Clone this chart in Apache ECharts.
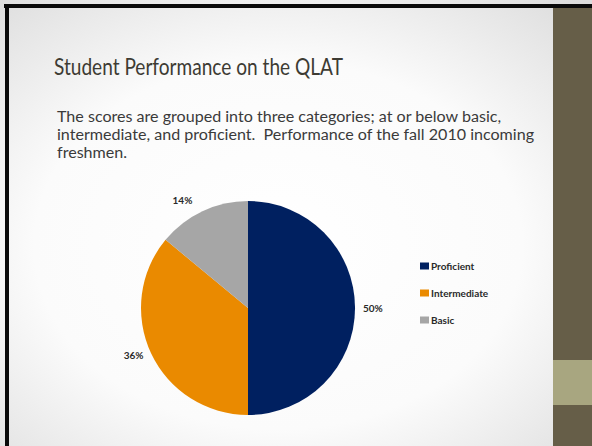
<!DOCTYPE html>
<html>
<head>
<meta charset="utf-8">
<script src="https://cdn.jsdelivr.net/npm/echarts@6/dist/echarts.min.js"></script>
<style>
html,body{margin:0;padding:0;background:#fff;}
#c{width:592px;height:446px;}
</style>
</head>
<body>
<div id="c"></div>
<script>
const categories = ['Proficient', 'Intermediate', 'Basic'];
const values = [50, 36, 14];
const colors = ['#002060', '#EA8A00', '#A6A6A6'];
const titleText = 'Student Performance on the QLAT';
const bodyLines = [
  'The scores are grouped into three categories; at or below basic,',
  'intermediate, and proficient.  Performance of the fall 2010 incoming',
  'freshmen.'
];

const chart = echarts.init(document.getElementById('c'), null, {renderer: 'svg'});
const FONT = 'Lato, "Open Sans", sans-serif';

chart.setOption({
  animation: false,
  graphic: [
    {type: 'rect', z: -10, shape: {x: 0, y: 0, width: 592, height: 446},
     style: {fill: {type: 'radial', x: 0.47, y: 0.55, r: 0.75, colorStops: [
       {offset: 0, color: '#ffffff'}, {offset: 0.55, color: '#fbfbfb'}, {offset: 1, color: '#dcdcdc'}]}}},
    {type: 'rect', z: -5, shape: {x: 4, y: 4, width: 588, height: 4}, style: {fill: '#0a0a0a'}},
    {type: 'rect', z: -5, shape: {x: 5, y: 4, width: 4, height: 442}, style: {fill: '#0a0a0a'}},
    {type: 'rect', z: -5, shape: {x: 553, y: 8, width: 39, height: 438}, style: {fill: '#665E48'}},
    {type: 'rect', z: -4, shape: {x: 553, y: 360, width: 39, height: 45}, style: {fill: '#A8A680'}},
    {type: 'text', x: 54, y: 55, scaleX: 0.83,
     style: {text: titleText, font: '23px ' + FONT, fill: '#3d3b33', textVerticalAlign: 'top'}},
    {type: 'text', x: 57, y: 106, scaleX: 1.005,
     style: {text: bodyLines.join('\n'), font: '16px ' + FONT, fill: '#3a3a3a', lineHeight: 18.3, textVerticalAlign: 'top'}}
  ],
  legend: {
    orient: 'vertical',
    left: 420, top: 261,
    padding: 0,
    itemWidth: 9, itemHeight: 7, itemGap: 17,
    icon: 'rect',
    data: categories,
    textStyle: {fontFamily: FONT, fontSize: 10, fontWeight: 'bold', color: '#2a2a2a', padding: [0, 0, 0, -3]}
  },
  series: [{
    type: 'pie',
    center: [248, 308],
    radius: 107,
    startAngle: 90,
    clockwise: true,
    avoidLabelOverlap: false,
    data: categories.map((c, i) => ({
      name: c, value: values[i], itemStyle: {color: colors[i]},
      labelLine: {length: c === 'Basic' ? 12 : 3}
    })),
    label: {
      show: true, position: 'outside',
      formatter: '{d}%',
      fontFamily: FONT, fontSize: 10, fontWeight: 'bold', color: '#2a2a2a',
      distanceToLabelLine: 5
    },
    labelLine: {show: false, length: 3, length2: 0},
    emphasis: {disabled: true}
  }]
});
</script>
</body>
</html>
